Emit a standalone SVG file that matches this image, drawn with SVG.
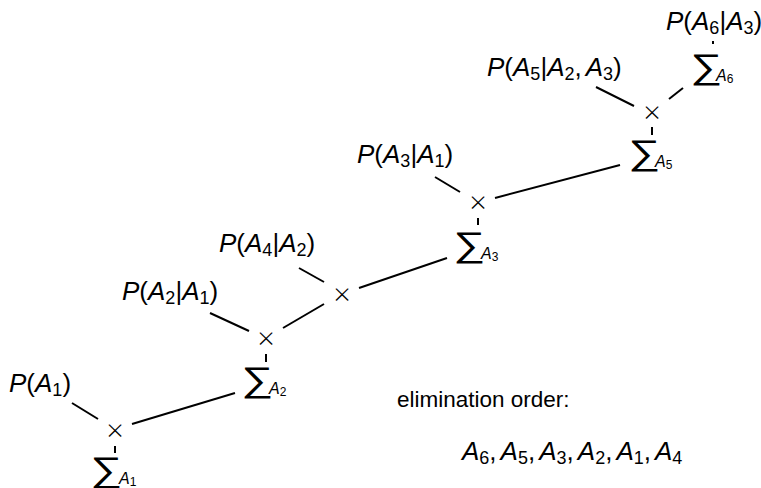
<svg xmlns="http://www.w3.org/2000/svg" width="761" height="488" viewBox="0 0 761 488">
  <style>
    text { font-family: "Liberation Sans", Arial, sans-serif; fill: #000; }
    .m { font-size: 26px; }
    .t { font-size: 22.5px; }
    .i { font-style: italic; }
    .op { font-family: "Open Sans", "DejaVu Sans", sans-serif; font-weight: 300; font-size: 30px; text-anchor: middle; }
    .sig { font-family: "DejaVu Sans", sans-serif; font-weight: 200; font-size: 32px; }
    .sub { font-size: 16px; font-style: italic; }
    .edge { stroke: #000; stroke-width: 2; fill: none; }
  </style>
  <rect width="761" height="488" fill="#fff"/>

  <g id="connectors">
    <line class="edge" x1="72" y1="403" x2="98" y2="419"/>
    <line class="edge" x1="132" y1="424" x2="235" y2="393"/>
    <line class="edge" x1="115" y1="446" x2="115" y2="453"/>
    <line class="edge" x1="210" y1="313" x2="249" y2="331"/>
    <line class="edge" x1="266" y1="354" x2="266" y2="362"/>
    <line class="edge" x1="283" y1="328" x2="324" y2="304"/>
    <line class="edge" x1="299" y1="268" x2="324" y2="282"/>
    <line class="edge" x1="359" y1="288" x2="447" y2="258"/>
    <line class="edge" x1="435" y1="177" x2="460" y2="192"/>
    <line class="edge" x1="478" y1="218" x2="478" y2="225"/>
    <line class="edge" x1="495" y1="198" x2="620" y2="165"/>
    <line class="edge" x1="596" y1="87" x2="634" y2="106"/>
    <line class="edge" x1="669" y1="99" x2="683" y2="88"/>
    <line class="edge" x1="652" y1="127" x2="652" y2="135"/>
    <line class="edge" x1="713" y1="41" x2="713" y2="44"/>
  </g>

  <g id="p-a1"><text class="m" x="9" y="392"><tspan class="i">P</tspan>(<tspan class="i">A</tspan><tspan font-size="18" dy="4">1</tspan><tspan dy="-4">)</tspan></text></g>
  <g id="p-a2-a1"><text class="m" x="122" y="300"><tspan class="i">P</tspan>(<tspan class="i">A</tspan><tspan font-size="18" dy="4">2</tspan><tspan dy="-4">|</tspan><tspan class="i">A</tspan><tspan font-size="18" dy="4">1</tspan><tspan dy="-4">)</tspan></text></g>
  <g id="p-a4-a2"><text class="m" x="219" y="252"><tspan class="i">P</tspan>(<tspan class="i">A</tspan><tspan font-size="18" dy="4">4</tspan><tspan dy="-4">|</tspan><tspan class="i">A</tspan><tspan font-size="18" dy="4">2</tspan><tspan dy="-4">)</tspan></text></g>
  <g id="p-a3-a1"><text class="m" x="357" y="163"><tspan class="i">P</tspan>(<tspan class="i">A</tspan><tspan font-size="18" dy="4">3</tspan><tspan dy="-4">|</tspan><tspan class="i">A</tspan><tspan font-size="18" dy="4">1</tspan><tspan dy="-4">)</tspan></text></g>
  <g id="p-a5-a2a3"><text class="m" x="487" y="76"><tspan class="i">P</tspan>(<tspan class="i">A</tspan><tspan font-size="18" dy="4">5</tspan><tspan dy="-4">|</tspan><tspan class="i">A</tspan><tspan font-size="18" dy="4">2</tspan><tspan dy="-4">,</tspan><tspan class="i" dx="4">A</tspan><tspan font-size="18" dy="4">3</tspan><tspan dy="-4">)</tspan></text></g>
  <g id="p-a6-a3"><text class="m" x="666" y="30"><tspan class="i">P</tspan>(<tspan class="i">A</tspan><tspan font-size="18" dy="4">6</tspan><tspan dy="-4">|</tspan><tspan class="i">A</tspan><tspan font-size="18" dy="4">3</tspan><tspan dy="-4">)</tspan></text></g>

  <g id="times-1"><text class="op" x="115" y="441">×</text></g>
  <g id="times-2"><text class="op" x="266" y="349">×</text></g>
  <g id="times-3"><text class="op" x="342" y="305">×</text></g>
  <g id="times-4"><text class="op" x="478" y="213">×</text></g>
  <g id="times-5"><text class="op" x="652" y="123">×</text></g>

  <!-- summation sign widened to text-style proportions, subscript set beside it -->
  <g id="sum-a1">
    <text class="sig" transform="translate(90,481) scale(1.4,1.08)">∑</text>
    <text x="119" y="484"><tspan class="sub">A</tspan><tspan font-size="12" dy="2">1</tspan></text>
  </g>
  <g id="sum-a2">
    <text class="sig" transform="translate(241,391) scale(1.4,1.08)">∑</text>
    <text x="269" y="394"><tspan class="sub">A</tspan><tspan font-size="12" dy="2">2</tspan></text>
  </g>
  <g id="sum-a3">
    <text class="sig" transform="translate(453,256) scale(1.4,1.08)">∑</text>
    <text x="481" y="259"><tspan class="sub">A</tspan><tspan font-size="12" dy="2">3</tspan></text>
  </g>
  <g id="sum-a5">
    <text class="sig" transform="translate(628,164) scale(1.4,1.08)">∑</text>
    <text x="655" y="167"><tspan class="sub">A</tspan><tspan font-size="12" dy="2">5</tspan></text>
  </g>
  <g id="sum-a6">
    <text class="sig" transform="translate(690,78) scale(1.4,1.08)">∑</text>
    <text x="716" y="81"><tspan class="sub">A</tspan><tspan font-size="12" dy="2">6</tspan></text>
  </g>

  <g id="legend">
    <text class="t" x="397" y="407">elimination order:</text>
    <text class="m" x="462" y="460"><tspan class="i">A</tspan><tspan font-size="18" dy="4">6</tspan><tspan dy="-4">,</tspan><tspan class="i" dx="4">A</tspan><tspan font-size="18" dy="4">5</tspan><tspan dy="-4">,</tspan><tspan class="i" dx="4">A</tspan><tspan font-size="18" dy="4">3</tspan><tspan dy="-4">,</tspan><tspan class="i" dx="4">A</tspan><tspan font-size="18" dy="4">2</tspan><tspan dy="-4">,</tspan><tspan class="i" dx="4">A</tspan><tspan font-size="18" dy="4">1</tspan><tspan dy="-4">,</tspan><tspan class="i" dx="4">A</tspan><tspan font-size="18" dy="4">4</tspan></text>
  </g>
</svg>
